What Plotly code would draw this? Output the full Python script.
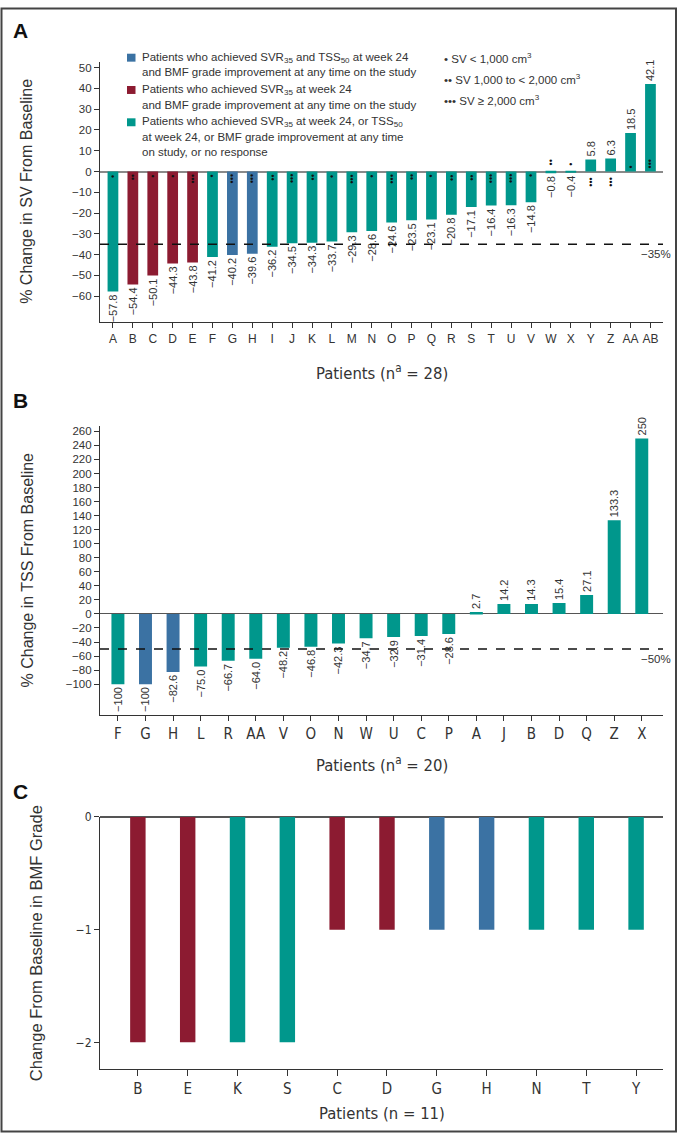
import plotly.graph_objects as go

W, H = 680, 1133

# ---------------- data ----------------
sv_patients = ["A", "B", "C", "D", "E", "F", "G", "H", "I", "J", "K", "L", "M", "N",
               "O", "P", "Q", "R", "S", "T", "U", "V", "W", "X", "Y", "Z", "AA", "AB"]
sv_change = [-57.8, -54.4, -50.1, -44.3, -43.8, -41.2, -40.2, -39.6, -36.2, -34.5, -34.3,
             -33.7, -29.3, -28.6, -24.6, -23.5, -23.1, -20.8, -17.1, -16.4, -16.3, -14.8,
             -0.8, -0.4, 5.8, 6.3, 18.5, 42.1]
sv_group = ["other", "svr", "svr", "svr", "svr", "other", "both", "both", "other", "other",
            "other", "other", "other", "other", "other", "other", "other", "other", "other",
            "other", "other", "other", "other", "other", "other", "other", "other", "other"]
sv_size_class = [1, 2, 1, 1, 3, 1, 3, 3, 2, 3, 2, 1, 3, 1, 3, 2, 1, 2, 2, 3, 3, 1, 2, 1, 3, 3, 1, 3]
sv_threshold = -35

tss_patients = ["F", "G", "H", "L", "R", "AA", "V", "O", "N", "W", "U", "C", "P", "A",
                "J", "B", "D", "Q", "Z", "X"]
tss_change = [-100, -100, -82.6, -75.0, -66.7, -64.0, -48.2, -46.8, -42.3, -34.7, -32.9,
              -31.4, -28.6, 2.7, 14.2, 14.3, 15.4, 27.1, 133.3, 250]
tss_group = ["other", "both", "both", "other", "other", "other", "other", "other", "other",
             "other", "other", "other", "other", "other", "other", "other", "other", "other",
             "other", "other"]
tss_threshold = -50

bmf_patients = ["B", "E", "K", "S", "C", "D", "G", "H", "N", "T", "Y"]
bmf_change = [-2, -2, -2, -2, -1, -1, -1, -1, -1, -1, -1]
bmf_group = ["svr", "svr", "other", "other", "svr", "svr", "both", "both", "other", "other", "other"]

sv_ticks = list(range(-60, 51, 10))
tss_ticks = list(range(-100, 261, 20))
bmf_ticks = [0, -1, -2]

# ---------------- style ----------------
COL = {"both": "#3B72A3", "svr": "#8C1B31", "other": "#00978C"}
TXT = "#333333"
SANS = "Liberation Sans, Arial, sans-serif"
NARROW = "Liberation Sans Narrow, Arial Narrow, DejaVu Sans Condensed, sans-serif"


def px_x(x):
    return x / W


def px_y(y):
    return 1 - y / H


def fmt(v):
    if abs(v) >= 100 and float(v).is_integer():
        s = f"{int(v)}"
    else:
        s = f"{v:.1f}"
    return s.replace("-", "\u2212")


fig = go.Figure()

fig.add_trace(go.Bar(
    x=sv_patients, y=sv_change, xaxis="x", yaxis="y",
    marker=dict(color=[COL[g] for g in sv_group], line=dict(width=0)),
    width=0.54, text=[fmt(v) for v in sv_change], textposition="outside",
    textangle=-90, constraintext="none", cliponaxis=False,
    textfont=dict(family=SANS, size=11, color=TXT), showlegend=False, hoverinfo="x+y"))

fig.add_trace(go.Bar(
    x=tss_patients, y=tss_change, xaxis="x2", yaxis="y2",
    marker=dict(color=[COL[g] for g in tss_group], line=dict(width=0)),
    width=0.47, text=[fmt(v) for v in tss_change], textposition="outside",
    textangle=-90, constraintext="none", cliponaxis=False,
    textfont=dict(family=SANS, size=11, color=TXT), showlegend=False, hoverinfo="x+y"))

fig.add_trace(go.Bar(
    x=bmf_patients, y=bmf_change, xaxis="x3", yaxis="y3",
    marker=dict(color=[COL[g] for g in bmf_group], line=dict(width=0)),
    width=0.31, showlegend=False, hoverinfo="x+y"))

annotations = []
shapes = []

# spleen volume dots
for p, v, n in zip(sv_patients, sv_change, sv_size_class):
    inside = abs(v) > 10
    if v < 0:
        side = -1 if inside else 1
    else:
        side = 1 if inside else -1
    gap = 2 if inside else 5
    annotations.append(dict(
        x=p, y=0, xref="x", yref="y", text="\u2022" * n, textangle=-90,
        showarrow=False, xanchor="center", yanchor="top" if side < 0 else "bottom",
        yshift=side * gap, font=dict(family=SANS, size=9, color="#111111"), borderpad=0))

# thresholds
for ax, thr in (("", sv_threshold), ("2", tss_threshold)):
    shapes.append(dict(type="line", xref=f"x{ax} domain", yref=f"y{ax}", x0=0, x1=1,
                       y0=thr, y1=thr, line=dict(color="#111111", width=1.5, dash="dash")))
    annotations.append(dict(x=0.987, y=thr, xref=f"x{ax} domain", yref=f"y{ax}",
                            xanchor="center", yanchor="middle",
                            text=f"\u2212{abs(thr)}%", showarrow=False, yshift=-10,
                            font=dict(family=SANS, size=11.5, color=TXT)))

# legend
legend_items = [
    ("both", 51, ["Patients who achieved SVR<sub>35</sub> and TSS<sub>50</sub> at week 24",
                  "and BMF grade improvement at any time on the study"]),
    ("svr", 83.5, ["Patients who achieved SVR<sub>35</sub> at week 24",
                   "and BMF grade improvement at any time on the study"]),
    ("other", 116, ["Patients who achieved SVR<sub>35</sub> at week 24, or TSS<sub>50</sub>",
                    "at week 24, or BMF grade improvement at any time",
                    "on study, or no response"]),
]
for key, y0, lines in legend_items:
    shapes.append(dict(type="rect", xref="paper", yref="paper",
                       x0=px_x(127), x1=px_x(135.5), y0=px_y(y0 + 4), y1=px_y(y0 - 4),
                       fillcolor=COL[key], line=dict(width=0)))
    for i, t in enumerate(lines):
        annotations.append(dict(x=px_x(140), y=px_y(y0 + 14.7 * i), xref="paper", yref="paper",
                                xanchor="left", yanchor="middle", text=t, showarrow=False,
                                font=dict(family=SANS, size=11.5, color=TXT)))

size_legend = [
    "\u2022 SV &lt; 1,000 cm<sup>3</sup>",
    "\u2022\u2022 SV 1,000 to &lt; 2,000 cm<sup>3</sup>",
    "\u2022\u2022\u2022 SV \u2265 2,000 cm<sup>3</sup>",
]
for i, t in enumerate(size_legend):
    annotations.append(dict(x=px_x(442), y=px_y(51.5 + 21 * i), xref="paper", yref="paper",
                            xanchor="left", yanchor="middle", text=t, showarrow=False,
                            font=dict(family=SANS, size=11.5, color=TXT)))

# panel letters
for letter, yy in (("A", 24), ("B", 396), ("C", 789)):
    annotations.append(dict(x=px_x(11), y=px_y(yy), xref="paper", yref="paper",
                            xanchor="left", yanchor="middle", text=f"<b>{letter}</b>",
                            showarrow=False, font=dict(family=SANS, size=21, color="#111111")))

# axis titles
xtitles = [
    (f"Patients (n<sup>a</sup> = {len(sv_patients)})", 367),
    (f"Patients (n<sup>a</sup> = {len(tss_patients)})", 762),
    (f"Patients (n = {len(bmf_patients)})", 1113),
]
for t, yy in xtitles:
    annotations.append(dict(x=px_x(381.5), y=px_y(yy), xref="paper", yref="paper",
                            xanchor="center", yanchor="middle", text=t, showarrow=False,
                            font=dict(family=NARROW, size=16.5, color=TXT)))

ytitles = [
    ("% Change in SV From Baseline", 27, 186, 16),
    ("% Change in TSS From Baseline", 27, 567, 16),
    ("Change From Baseline in BMF Grade", 36, 942, 16.5),
]
for t, xx, yy, fs in ytitles:
    annotations.append(dict(x=px_x(xx), y=px_y(yy), xref="paper", yref="paper",
                            xanchor="center", yanchor="middle",
                            text=t, textangle=-90, showarrow=False,
                            font=dict(family=SANS, size=fs, color=TXT)))

# outer frame
shapes.append(dict(type="rect", xref="paper", yref="paper", x0=px_x(1.5), x1=px_x(676),
                   y0=px_y(1131.5), y1=px_y(1.5), line=dict(color="#444444", width=2)))

xdom = [px_x(100), px_x(663)]
common_x = dict(type="category", showline=True, linecolor="#333333", linewidth=1.2,
                ticks="outside", ticklen=5, tickcolor="#333333", showgrid=False,
                zeroline=False, fixedrange=True)
common_y = dict(showline=True, linecolor="#333333", linewidth=1.2, ticks="outside",
                ticklen=5, tickcolor="#333333", showgrid=False, fixedrange=True)

fig.update_layout(
    width=W, height=H, margin=dict(l=0, r=0, t=0, b=0),
    paper_bgcolor="white", plot_bgcolor="white", showlegend=False,
    xaxis=dict(common_x, domain=xdom, anchor="y", range=[-0.65, 27.63],
               tickfont=dict(family=SANS, size=12, color=TXT)),
    yaxis=dict(common_y, domain=[px_y(317), px_y(55)], anchor="x", range=[-72.5, 52.9],
               tickvals=sv_ticks, zeroline=True, zerolinecolor="#8a8a8a", zerolinewidth=1.5,
               tickfont=dict(family=SANS, size=11.5, color=TXT)),
    xaxis2=dict(common_x, domain=xdom, anchor="y2", range=[-0.65, 19.77],
                tickfont=dict(family=NARROW, size=15, color=TXT)),
    yaxis2=dict(common_y, domain=[px_y(712), px_y(422)], anchor="x2", range=[-143.4, 267.1],
                tickvals=tss_ticks, zeroline=True, zerolinecolor="#555555", zerolinewidth=1.2,
                tickfont=dict(family=SANS, size=11.5, color=TXT)),
    xaxis3=dict(common_x, domain=xdom, anchor="y3", range=[-0.76, 10.54], ticklen=6,
                tickfont=dict(family=NARROW, size=15, color=TXT)),
    yaxis3=dict(common_y, domain=[px_y(1069), px_y(815)], anchor="x3", range=[-2.24, 0],
                tickvals=bmf_ticks, zeroline=True, zerolinecolor="#555555", zerolinewidth=1.5,
                tickfont=dict(family=NARROW, size=12, color=TXT)),
    annotations=annotations, shapes=shapes,
)

fig.write_html("out.html", config={"displayModeBar": False},
               post_script="document.body.style.margin='0';"
                           "document.body.style.overflow='hidden';")
